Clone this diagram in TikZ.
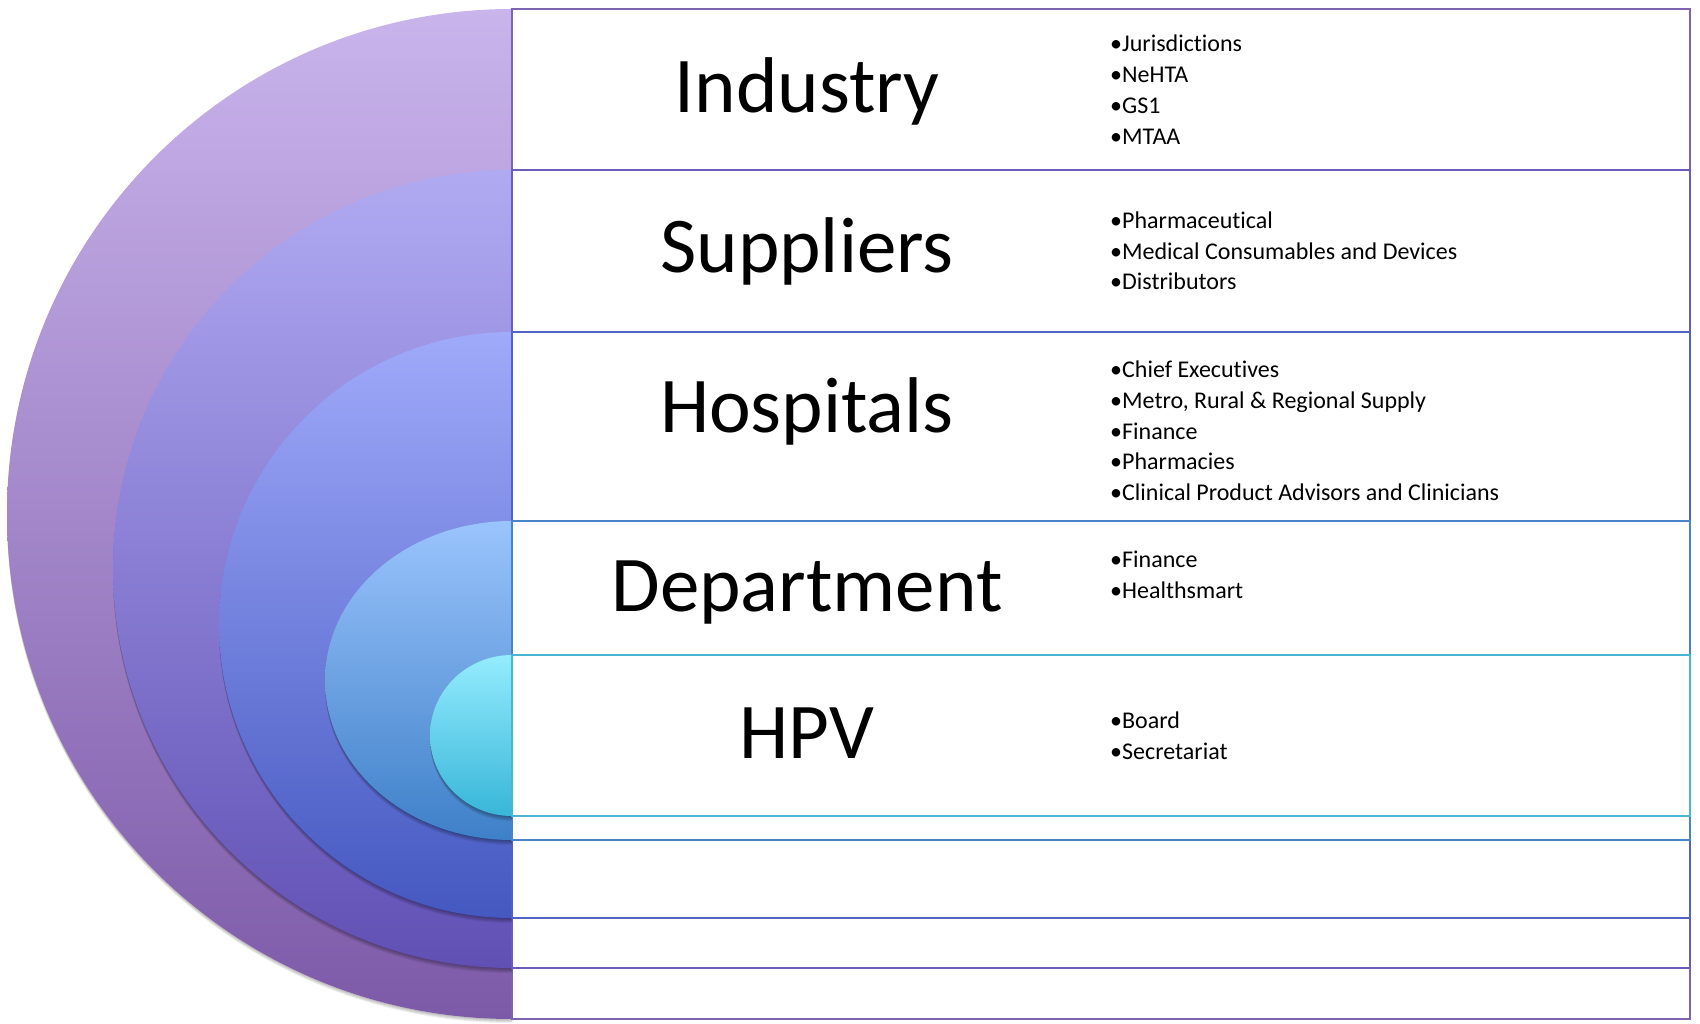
\documentclass[tikz,border=0pt]{standalone}
\usepackage{fontspec}
\setmainfont{Carlito}[Ligatures={NoCommon}]
\definecolor{iTop}{HTML}{C9B4EC}
\definecolor{iBot}{HTML}{7D5AA8}
\definecolor{sTop}{HTML}{B0AAF2}
\definecolor{sBot}{HTML}{6050B4}
\definecolor{hTop}{HTML}{A0AAFA}
\definecolor{hBot}{HTML}{4458C0}
\definecolor{dTop}{HTML}{9AC4FC}
\definecolor{dBot}{HTML}{3E80C8}
\definecolor{pTop}{HTML}{94ECFE}
\definecolor{pBot}{HTML}{38B6D8}
\definecolor{iLine}{HTML}{7E64B0}
\definecolor{sLine}{HTML}{6A5CBA}
\definecolor{hLine}{HTML}{5262C0}
\definecolor{dLine}{HTML}{4A84C8}
\definecolor{pLine}{HTML}{4AB4D4}
\begin{document}
\begin{tikzpicture}[x=1pt,y=1pt,
  title/.style={anchor=base, inner sep=0pt, font=\fontsize{79}{95}\selectfont},
  item/.style={anchor=base west, inner sep=0pt, font=\fontsize{24}{29}\selectfont},
  band/.style={fill=white, line width=2pt},
  shadowlayer/.style={fill=black, opacity=0.07}]
\useasboundingbox (0,0) rectangle (1700,1023);
% ---- Industry ring
\begin{scope}
  \clip (0,0) rectangle (512,1023);
  \foreach \d in {1,2,3,4}
    \fill[shadowlayer] (512,1014-\d) arc[start angle=90,end angle=270,radius=505] -- cycle;
\end{scope}
\shade[top color=iTop, bottom color=iBot] (512,1014) arc[start angle=90,end angle=270,radius=505] -- cycle;
\draw[band, draw=iLine] (512,1014) rectangle (1690,4);
% ---- Suppliers ring
\begin{scope}
  \clip (0,0) rectangle (512,1023);
  \foreach \d in {1,2,3,4,5}
    \fill[shadowlayer] (512,853-\d) arc[start angle=90,end angle=270,radius=399] -- cycle;
\end{scope}
\shade[top color=sTop, bottom color=sBot] (512,853) arc[start angle=90,end angle=270,radius=399] -- cycle;
\draw[band, draw=sLine] (512,853) rectangle (1690,55);
% ---- Hospitals ring
\begin{scope}
  \clip (0,0) rectangle (512,1023);
  \foreach \d in {1,2,3,4,5}
    \fill[shadowlayer] (512,691-\d) arc[start angle=90,end angle=270,radius=293] -- cycle;
\end{scope}
\shade[top color=hTop, bottom color=hBot] (512,691) arc[start angle=90,end angle=270,radius=293] -- cycle;
\draw[band, draw=hLine] (512,691) rectangle (1690,105);
% ---- Department ring
\begin{scope}
  \clip (0,0) rectangle (512,1023);
  \foreach \d in {1,2,3,4,5}
    \fill[shadowlayer] (512,502-\d) arc[start angle=90,end angle=270,x radius=187,y radius=159.5] -- cycle;
\end{scope}
\shade[top color=dTop, bottom color=dBot] (512,502) arc[start angle=90,end angle=270,x radius=187,y radius=159.5] -- cycle;
\draw[band, draw=dLine] (512,502) rectangle (1690,183);
% ---- HPV ring
\begin{scope}
  \clip (0,0) rectangle (512,1023);
  \foreach \d in {1,2,3,4,5}
    \fill[shadowlayer] (512,368-\d) arc[start angle=90,end angle=270,x radius=82,y radius=80.5] -- cycle;
\end{scope}
\shade[top color=pTop, bottom color=pBot] (512,368) arc[start angle=90,end angle=270,x radius=82,y radius=80.5] -- cycle;
\draw[band, draw=pLine] (512,368) rectangle (1690,207);
% ---- Titles
\node[title] (tind) at (807,910) {Industry};
\node[title] (tsup) at (807,750) {Suppliers};
\node[title] (thos) at (807,590) {Hospitals};
\node[title] (tdep) at (807,411) {Department};
\node[title] (thpv) at (807,264) {HPV};
% ---- Bullet items
\node[item] (i1) at (1110,971) {•Jurisdictions};
\node[item] (i2) at (1110,940) {•NeHTA};
\node[item] (i3) at (1110,909) {•GS1};
\node[item] (i4) at (1110,878) {•MTAA};
\node[item] (s1) at (1110,794) {•Pharmaceutical};
\node[item] (s2) at (1110,763) {•Medical Consumables and Devices};
\node[item] (s3) at (1110,733) {•Distributors};
\node[item] (h1) at (1110,645) {•Chief Executives};
\node[item] (h2) at (1110,614) {•Metro, Rural \& Regional Supply};
\node[item] (h3) at (1110,583) {•Finance};
\node[item] (h4) at (1110,553) {•Pharmacies};
\node[item] (h5) at (1110,522) {•Clinical Product Advisors and Clinicians};
\node[item] (d1) at (1110,455) {•Finance};
\node[item] (d2) at (1110,424) {•Healthsmart};
\node[item] (p1) at (1110,294) {•Board};
\node[item] (p2) at (1110,263) {•Secretariat};
\end{tikzpicture}
\end{document}
